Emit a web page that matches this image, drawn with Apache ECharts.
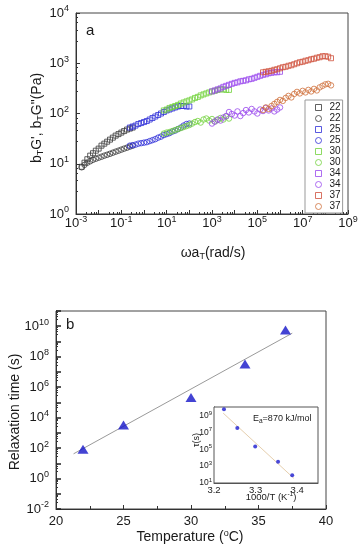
<!DOCTYPE html>
<html>
<head>
<meta charset="utf-8">
<script src="https://cdn.jsdelivr.net/npm/echarts@6/dist/echarts.min.js"></script>
<style>
  html, body { margin: 0; padding: 0; background: #fff; }
  #chart { width: 364px; height: 550px; }
</style>
</head>
<body>
<div id="chart"></div>
<script>
// ---------- Panel a: shifted master curves (ωaT, bT·G', bT·G'') ----------
var x22 = [0.00178, 0.00237, 0.00316, 0.00422, 0.00562, 0.0075, 0.01, 0.0133, 0.0178, 0.0237, 0.0316, 0.0422, 0.0562, 0.075, 0.1, 0.133, 0.178, 0.237, 0.316];
var gp22 = [8.7, 10.5, 12.3, 14.5, 16.2, 18.2, 20.0, 22.9, 25.1, 27.5, 30.2, 33.1, 36.3, 38.9, 41.7, 44.7, 47.9, 50.1, 52.5];
var gpp22 = [8.5, 9.5, 10.5, 11.2, 12.0, 12.6, 13.2, 13.8, 14.5, 15.1, 15.8, 16.6, 17.4, 18.2, 19.1, 20.0, 20.9, 21.9, 22.9];

var x25 = [0.237, 0.316, 0.422, 0.562, 0.75, 1.0, 1.33, 1.78, 2.37, 3.16, 4.22, 5.62, 7.5, 10, 13.3, 17.8, 23.7, 31.6, 42.2, 56.2, 75, 100];
var gp25 = [52.5, 55.0, 57.5, 61.7, 64.6, 67.6, 70.8, 75.9, 81.3, 87.1, 93.3, 100, 107, 115, 120, 126, 132, 138, 141, 141, 138, 138];
var gpp25 = [22.9, 23.4, 24.0, 25.1, 25.7, 26.3, 26.9, 28.2, 29.5, 30.9, 33.1, 34.7, 37.2, 38.9, 40.7, 43.7, 45.7, 49.0, 52.5, 57.5, 61.7, 63.1];

var x30 = [7.5, 10, 13.3, 17.8, 23.7, 31.6, 42.2, 56.2, 75, 100, 133, 178, 237, 316, 422, 562, 750, 1000, 1330, 1780, 2370, 3160, 4220, 5620];
var gp30 = [115, 120, 129, 135, 141, 148, 158, 166, 174, 182, 191, 204, 214, 229, 240, 251, 263, 275, 282, 295, 302, 302, 295, 295];
var gpp30 = [39.8, 41.7, 42.7, 44.7, 46.8, 49.0, 51.3, 53.7, 56.2, 58.9, 63.1, 67.6, 70.8, 66.1, 75.9, 79.4, 72.4, 77.6, 69.2, 74.1, 81.3, 75.9, 87.1, 79.4];

var x34 = [1000, 1330, 1780, 2370, 3160, 4220, 5620, 7500, 1e4, 1.33e4, 1.78e4, 2.37e4, 3.16e4, 4.22e4, 5.62e4, 7.5e4, 1e5, 1.33e5, 1.78e5, 2.37e5, 3.16e5, 4.22e5, 5.62e5, 7.5e5, 1e6];
var gp34 = [275, 288, 302, 316, 339, 355, 372, 389, 407, 417, 437, 447, 457, 479, 490, 513, 537, 562, 589, 603, 631, 646, 661, 661, 676];
var gpp34 = [63.1, 69.2, 75.9, 72.4, 83.2, 89.1, 107, 97.7, 91.2, 110, 89.1, 102, 117, 105, 123, 110, 100, 120, 112, 129, 115, 126, 110, 120, 132];

var x37 = [1.78e5, 2.37e5, 3.16e5, 4.22e5, 5.62e5, 7.5e5, 1e6, 1.33e6, 1.78e6, 2.37e6, 3.16e6, 4.22e6, 5.62e6, 7.5e6, 1e7, 1.33e7, 1.78e7, 2.37e7, 3.16e7, 4.22e7, 5.62e7, 7.5e7, 1e8, 1.33e8, 1.78e8];
var gp37 = [661, 676, 692, 708, 741, 759, 794, 832, 851, 891, 912, 955, 1000, 1047, 1072, 1122, 1148, 1202, 1230, 1288, 1318, 1380, 1380, 1349, 1259];
var gpp37 = [117, 132, 123, 141, 155, 170, 186, 178, 204, 224, 209, 245, 269, 251, 282, 263, 295, 275, 309, 288, 331, 355, 380, 389, 363];

// tick-label exponents shown on each log axis
var aXLabelExps = [-3, -1, 1, 3, 5, 7, 9];
var aYLabelExps = [0, 1, 2, 3, 4];
var bYLabelExps = [-2, 0, 2, 4, 6, 8, 10];
var insetYLabelExps = [1, 3, 5, 7, 9];

// ---------- Panel b: relaxation time vs temperature ----------
var temps = [22, 25, 30, 34, 37];
var tau = [83, 3300, 2.1e5, 3.3e7, 5.6e9];
var fitTemps = [21.3, 37.5];
var fitTau = [42, 3.5e9];

// ---------- Inset: Arrhenius plot ----------
var invT = [3.388, 3.354, 3.299, 3.256, 3.224];
var insetTau = [83, 3300, 2.1e5, 3.3e7, 5.6e9];
var insetFitX = [3.222, 3.392];
var insetFitY = [1.9e9, 36];

var FONT = 'Liberation Sans, Arial, sans-serif';
var TXT = '#1a1a1a';

function zip(a, b) { return a.map(function (v, i) { return [v, b[i]]; }); }

var supRich = {
  b: { fontSize: 13, lineHeight: 13, verticalAlign: 'bottom', color: TXT, fontFamily: FONT },
  e: { fontSize: 9, lineHeight: 9, padding: [0, 0, 8, 0], color: TXT, fontFamily: FONT }
};
var supRichSmall = {
  b: { fontSize: 8.5, lineHeight: 9, verticalAlign: 'bottom', color: TXT, fontFamily: FONT },
  e: { fontSize: 6, lineHeight: 6, padding: [0, 0, 5, 0], color: TXT, fontFamily: FONT }
};
function powFmtOf(list) {
  return function (v) {
    var e = Math.round(Math.log(v) / Math.LN10);
    if (list.indexOf(e) < 0) return '';
    return '{b|10}{e|' + e + '}';
  };
}

var groups = [
  { t: '22', x: x22, gp: gp22, gpp: gpp22, cs: '#3a3a3a', cc: '#3a3a3a' },
  { t: '25', x: x25, gp: gp25, gpp: gpp25, cs: '#3030d8', cc: '#3030d8' },
  { t: '30', x: x30, gp: gp30, gpp: gpp30, cs: '#72d23c', cc: '#72d23c' },
  { t: '34', x: x34, gp: gp34, gpp: gpp34, cs: '#9a48ee', cc: '#9a48ee' },
  { t: '37', x: x37, gp: gp37, gpp: gpp37, cs: '#d0503c', cc: '#d0703c' }
];

var series = [];
var legendNames = [];
groups.forEach(function (g) {
  var n1 = g.t + " G'";
  var n2 = g.t + " G''";
  legendNames.push(n1, n2);
  series.push({
    name: n1, type: 'scatter', xAxisIndex: 0, yAxisIndex: 0,
    symbol: 'rect', symbolSize: 5,
    itemStyle: { color: 'rgba(255,255,255,0)', borderColor: g.cs, borderWidth: 1 },
    data: zip(g.x, g.gp), z: 3
  });
  series.push({
    name: n2, type: 'scatter', xAxisIndex: 0, yAxisIndex: 0,
    symbol: 'circle', symbolSize: 5.5,
    itemStyle: { color: 'rgba(255,255,255,0)', borderColor: g.cc, borderWidth: 1 },
    data: zip(g.x, g.gpp), z: 3
  });
});

series.push({
  type: 'line', xAxisIndex: 1, yAxisIndex: 1, symbol: 'none',
  lineStyle: { color: '#9a9a9a', width: 1 }, data: zip(fitTemps, fitTau), z: 2
});
series.push({
  type: 'scatter', xAxisIndex: 1, yAxisIndex: 1, symbol: 'triangle', symbolSize: [11, 9],
  itemStyle: { color: '#1414c8' }, data: zip(temps, tau), z: 3
});
series.push({
  type: 'line', xAxisIndex: 2, yAxisIndex: 2, symbol: 'none',
  lineStyle: { color: '#e6cfae', width: 1 }, data: zip(insetFitX, insetFitY), z: 5
});
series.push({
  type: 'scatter', xAxisIndex: 2, yAxisIndex: 2, symbol: 'circle', symbolSize: 4,
  itemStyle: { color: '#1a1ad0' }, data: zip(invT, insetTau), z: 6
});

function logAxis(grid, min, max, opts) {
  var a = {
    type: 'log', logBase: 10, gridIndex: grid, min: min, max: max, interval: 1,
    axisLine: { show: true, onZero: false, lineStyle: { color: '#333', width: 1 } },
    axisTick: { show: true, inside: true, length: 4, interval: 0, lineStyle: { color: '#333' } },
    minorTick: { show: true, splitNumber: 5, length: 2, lineStyle: { color: '#333' } },
    splitLine: { show: false }
  };
  for (var k in opts) a[k] = opts[k];
  return a;
}

var option = {
  animation: false,
  backgroundColor: '#fff',
  textStyle: { fontFamily: FONT },
  grid: [
    { left: 76, top: 13, width: 272, height: 201, show: true, borderColor: '#444', borderWidth: 1 },
    { left: 56, top: 311, width: 270, height: 198, show: true, borderColor: '#444', borderWidth: 1 },
    { left: 214, top: 407, width: 104, height: 76, show: true, borderColor: '#555', borderWidth: 1, backgroundColor: '#fff', z: 4 }
  ],
  legend: {
    data: legendNames, orient: 'vertical', left: 305, top: 100,
    itemWidth: 6, itemHeight: 6, itemGap: 0, padding: [2, 2, 1, 10],
    itemStyle: { borderWidth: 1 },
    borderColor: '#999', borderWidth: 1, backgroundColor: '#fff',
    textStyle: { fontSize: 10, lineHeight: 11, color: TXT, fontFamily: FONT, padding: [0, 0, 0, 3] },
    formatter: function (n) { return n.split(' ')[0]; },
    selectedMode: false
  },
  xAxis: [
    logAxis(0, 0.001, 1e9, { axisLabel: { interval: 0, formatter: powFmtOf(aXLabelExps), rich: supRich, margin: 3 } }),
    {
      type: 'value', gridIndex: 1, min: 20, max: 40, interval: 5,
      axisLine: { show: true, onZero: false, lineStyle: { color: '#333' } },
      axisTick: { show: true, inside: true, length: 4, lineStyle: { color: '#333' } },
      minorTick: { show: true, splitNumber: 2, length: 3, lineStyle: { color: '#333' } },
      splitLine: { show: false },
      axisLabel: { fontSize: 13, color: TXT, margin: 6, fontFamily: FONT }
    },
    {
      type: 'value', gridIndex: 2, min: 3.2, max: 3.45, interval: 0.1,
      axisLine: { show: true, onZero: false, lineStyle: { color: '#555' } },
      axisTick: { show: true, inside: true, length: 3, lineStyle: { color: '#555' } },
      minorTick: { show: false },
      splitLine: { show: false },
      axisLabel: { fontSize: 9.5, color: TXT, margin: 2, showMaxLabel: false, fontFamily: FONT,
        formatter: function (v) { return v.toFixed(1); } }
    }
  ],
  yAxis: [
    logAxis(0, 1, 1e4, { axisLabel: { interval: 0, formatter: powFmtOf(aYLabelExps), rich: supRich, margin: 7 } }),
    logAxis(1, 0.01, 1e11, { axisLabel: { interval: 0, formatter: powFmtOf(bYLabelExps), rich: supRich, margin: 7 },
      axisTick: { show: true, inside: true, length: 5, interval: 0, lineStyle: { color: '#222', width: 1.5 } } }),
    logAxis(2, 10, 1e10, { axisLabel: { interval: 0, formatter: powFmtOf(insetYLabelExps), rich: supRichSmall, margin: 2 },
      axisTick: { show: true, inside: true, length: 3, interval: 0, lineStyle: { color: '#555' } },
      minorTick: { show: false } })
  ],
  series: series,
  graphic: [
    { type: 'text', left: 86, top: 23, style: { text: 'a', fontSize: 15, fill: TXT, fontFamily: FONT } },
    { type: 'text', left: 66, top: 317, style: { text: 'b', fontSize: 15, fill: TXT, fontFamily: FONT } },
    {
      type: 'text', x: 37, y: 118, rotation: Math.PI / 2,
      style: {
        text: "{n|b}{s|T}{n|G', b}{s|T}{n|G\"(Pa)}", align: 'center', verticalAlign: 'middle',
        rich: {
          n: { fontSize: 14, lineHeight: 14, verticalAlign: 'top', fill: TXT, fontFamily: FONT },
          s: { fontSize: 9, lineHeight: 9, padding: [8, 0, 0, 0], fill: TXT, fontFamily: FONT }
        }
      }
    },
    {
      type: 'text', x: 213, y: 253,
      style: {
        text: '{n|ωa}{s|T}{n|(rad/s)}', align: 'center', verticalAlign: 'middle',
        rich: {
          n: { fontSize: 14, lineHeight: 14, verticalAlign: 'top', fill: TXT, fontFamily: FONT },
          s: { fontSize: 9, lineHeight: 9, padding: [8, 0, 0, 0], fill: TXT, fontFamily: FONT }
        }
      }
    },
    {
      type: 'text', x: 15, y: 412, rotation: Math.PI / 2,
      style: { text: 'Relaxation time (s)', align: 'center', verticalAlign: 'middle', fontSize: 14, fill: TXT, fontFamily: FONT }
    },
    {
      type: 'text', x: 190, y: 537,
      style: {
        text: '{n|Temperature (}{e|o}{n|C)}', align: 'center', verticalAlign: 'middle',
        rich: {
          n: { fontSize: 14, lineHeight: 14, verticalAlign: 'bottom', fill: TXT, fontFamily: FONT },
          e: { fontSize: 9, lineHeight: 9, padding: [0, 0, 7, 0], fill: TXT, fontFamily: FONT }
        }
      }
    },
    {
      type: 'text', x: 253, y: 419, z: 10,
      style: {
        text: '{n|E}{s|a}{n|=870 kJ/mol}', align: 'left', verticalAlign: 'middle',
        rich: {
          n: { fontSize: 9, lineHeight: 9, verticalAlign: 'top', fill: TXT, fontFamily: FONT },
          s: { fontSize: 6.5, lineHeight: 6, padding: [5, 0, 0, 0], fill: TXT, fontFamily: FONT }
        }
      }
    },
    {
      type: 'text', x: 197, y: 440, rotation: Math.PI / 2, z: 10,
      style: { text: 'τ(s)', align: 'center', verticalAlign: 'middle', fontSize: 9, fill: TXT, fontFamily: FONT }
    },
    {
      type: 'text', x: 271, y: 497, z: 10,
      style: {
        text: '{n|1000/T (K}{e|-1}{n|)}', align: 'center', verticalAlign: 'middle',
        rich: {
          n: { fontSize: 9.5, lineHeight: 10, verticalAlign: 'bottom', fill: TXT, fontFamily: FONT },
          e: { fontSize: 6.5, lineHeight: 7, padding: [0, 0, 5, 0], fill: TXT, fontFamily: FONT }
        }
      }
    }
  ]
};

var chart = echarts.init(document.getElementById('chart'), null, { renderer: 'canvas' });
chart.setOption(option);
</script>
</body>
</html>
